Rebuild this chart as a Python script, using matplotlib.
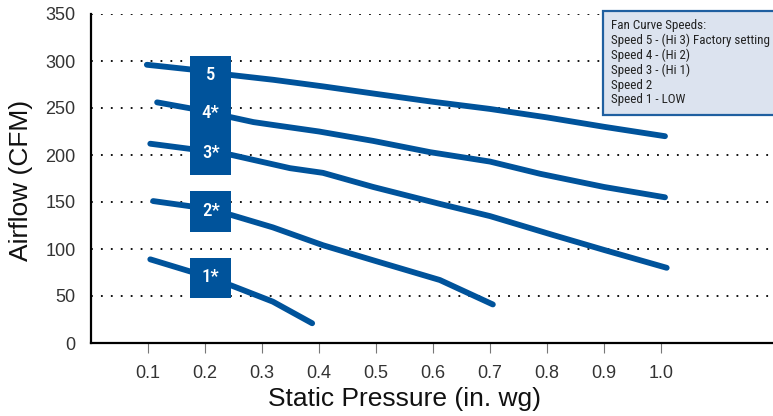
#!/usr/bin/env python3
"""Fan curve chart: airflow vs static pressure for five fan speeds."""

import matplotlib
matplotlib.use("Agg")
import matplotlib.pyplot as plt
from matplotlib import font_manager
from matplotlib.patches import Rectangle


# values
speed5_p = [0.098, 0.175, 0.247, 0.32, 0.407, 0.5, 0.595, 0.7, 0.8, 0.9, 1.007]
speed5_cfm = [296, 291, 285, 280, 273, 265, 257, 249, 240, 230, 220]

speed4_p = [0.116, 0.18, 0.247, 0.285, 0.319, 0.40, 0.495, 0.595, 0.7, 0.788, 0.9, 1.007]
speed4_cfm = [256, 249, 240, 235, 232, 225, 215, 203, 193, 180, 166, 155]

speed3_p = [0.104, 0.18, 0.247, 0.349, 0.407, 0.495, 0.612, 0.7, 0.81, 0.9, 1.01]
speed3_cfm = [212, 206, 200, 186, 181, 166, 148, 135, 115, 99, 80]

speed2_p = [0.109, 0.18, 0.247, 0.319, 0.407, 0.495, 0.612, 0.705]
speed2_cfm = [151, 145, 136, 123, 104, 88, 67, 41]

speed1_p = [0.104, 0.18, 0.247, 0.319, 0.388]
speed1_cfm = [89, 75, 61, 44, 21]

curve_labels = ["5", "4*", "3*", "2*", "1*"]
label_y = [285, 245, 202, 140, 70]

x_ticks = [0.1, 0.2, 0.3, 0.4, 0.5, 0.6, 0.7, 0.8, 0.9, 1.0]
y_ticks = [0, 50, 100, 150, 200, 250, 300, 350]

legend_lines = [
    "Fan Curve Speeds:",
    "Speed 5 - (Hi 3) Factory setting",
    "Speed 4 - (Hi 2)",
    "Speed 3 - (Hi 1)",
    "Speed 2",
    "Speed 1 - LOW",
]

BLUE = "#00539b"
TEXT = "#333333"

installed = {f.name for f in font_manager.fontManager.ttflist}
NARROW = next((n for n in ["Roboto Condensed", "Archivo Narrow", "Barlow Semi Condensed",
                           "Liberation Sans Narrow"] if n in installed), "DejaVu Sans")
plt.rcParams["font.family"] = ["Liberation Sans", "DejaVu Sans"]


def main():
    fig = plt.figure(figsize=(7.73, 4.16), dpi=100)
    ax = fig.add_axes([91 / 773, 1 - 343 / 416, 1 - 91 / 773, (343 - 14) / 416])
    ax.set_xlim(0, 682 / 570)
    ax.set_ylim(0, 350)

    for y in y_ticks[1:]:
        ax.axhline(y, color="black", lw=1.3, dashes=(1, 4.5), zorder=1)

    series = [
        (speed5_p, speed5_cfm),
        (speed4_p, speed4_cfm),
        (speed3_p, speed3_cfm),
        (speed2_p, speed2_cfm),
        (speed1_p, speed1_cfm),
    ]
    for p, cfm in series:
        ax.plot(p, cfm, color=BLUE, lw=4.2, solid_capstyle="round",
                solid_joinstyle="round", zorder=3)

    # label boxes over the left end of the curves
    bx0, bx1 = 0.174, 0.246
    for top, bottom in [(305, 179), (162, 118), (90, 48)]:
        ax.add_patch(Rectangle((bx0, bottom), bx1 - bx0, top - bottom,
                               color=BLUE, lw=0, zorder=4))
    for lab, y in zip(curve_labels, label_y):
        ax.text((bx0 + bx1) / 2, y, lab, color="white", fontsize=13.5,
                fontweight="medium", family=NARROW, ha="center", va="center",
                zorder=5)

    ax.spines["top"].set_visible(False)
    ax.spines["right"].set_visible(False)
    for s in ("left", "bottom"):
        ax.spines[s].set_linewidth(1.6)
        ax.spines[s].set_color("black")

    ax.set_xticks(x_ticks)
    ax.set_xticklabels([f"{v:.1f}" for v in x_ticks])
    ax.set_yticks(y_ticks)
    ax.tick_params(axis="x", direction="out", length=7.5, width=0.8,
                   color="#777777", pad=8, labelsize=13, labelcolor=TEXT)
    ax.tick_params(axis="y", length=0, pad=11, labelsize=13, labelcolor=TEXT)

    fig.text(404 / 773, 1 - 399 / 416, "Static Pressure (in. wg)",
             fontsize=19, ha="center", va="center", color="#111111")
    fig.text(21 / 773, 1 - 180 / 416, "Airflow (CFM)", rotation=90,
             fontsize=19, ha="center", va="center", color="#111111")

    # legend panel in the top-right corner
    fig.patches.append(Rectangle((603 / 773, 1 - 115 / 416), 200 / 773, 104 / 416,
                                 transform=fig.transFigure, facecolor="#dce3ef",
                                 edgecolor="#1f5fa0", lw=1.6, zorder=5))
    for i, line in enumerate(legend_lines):
        fig.text(611 / 773, 1 - (25 + 15 * i) / 416, line, family=NARROW,
                 fontsize=9.4, color="#222222", ha="left",
                 va="center", zorder=6)

    fig.savefig("out.png", dpi=100)
    plt.close(fig)


if __name__ == "__main__":
    main()
